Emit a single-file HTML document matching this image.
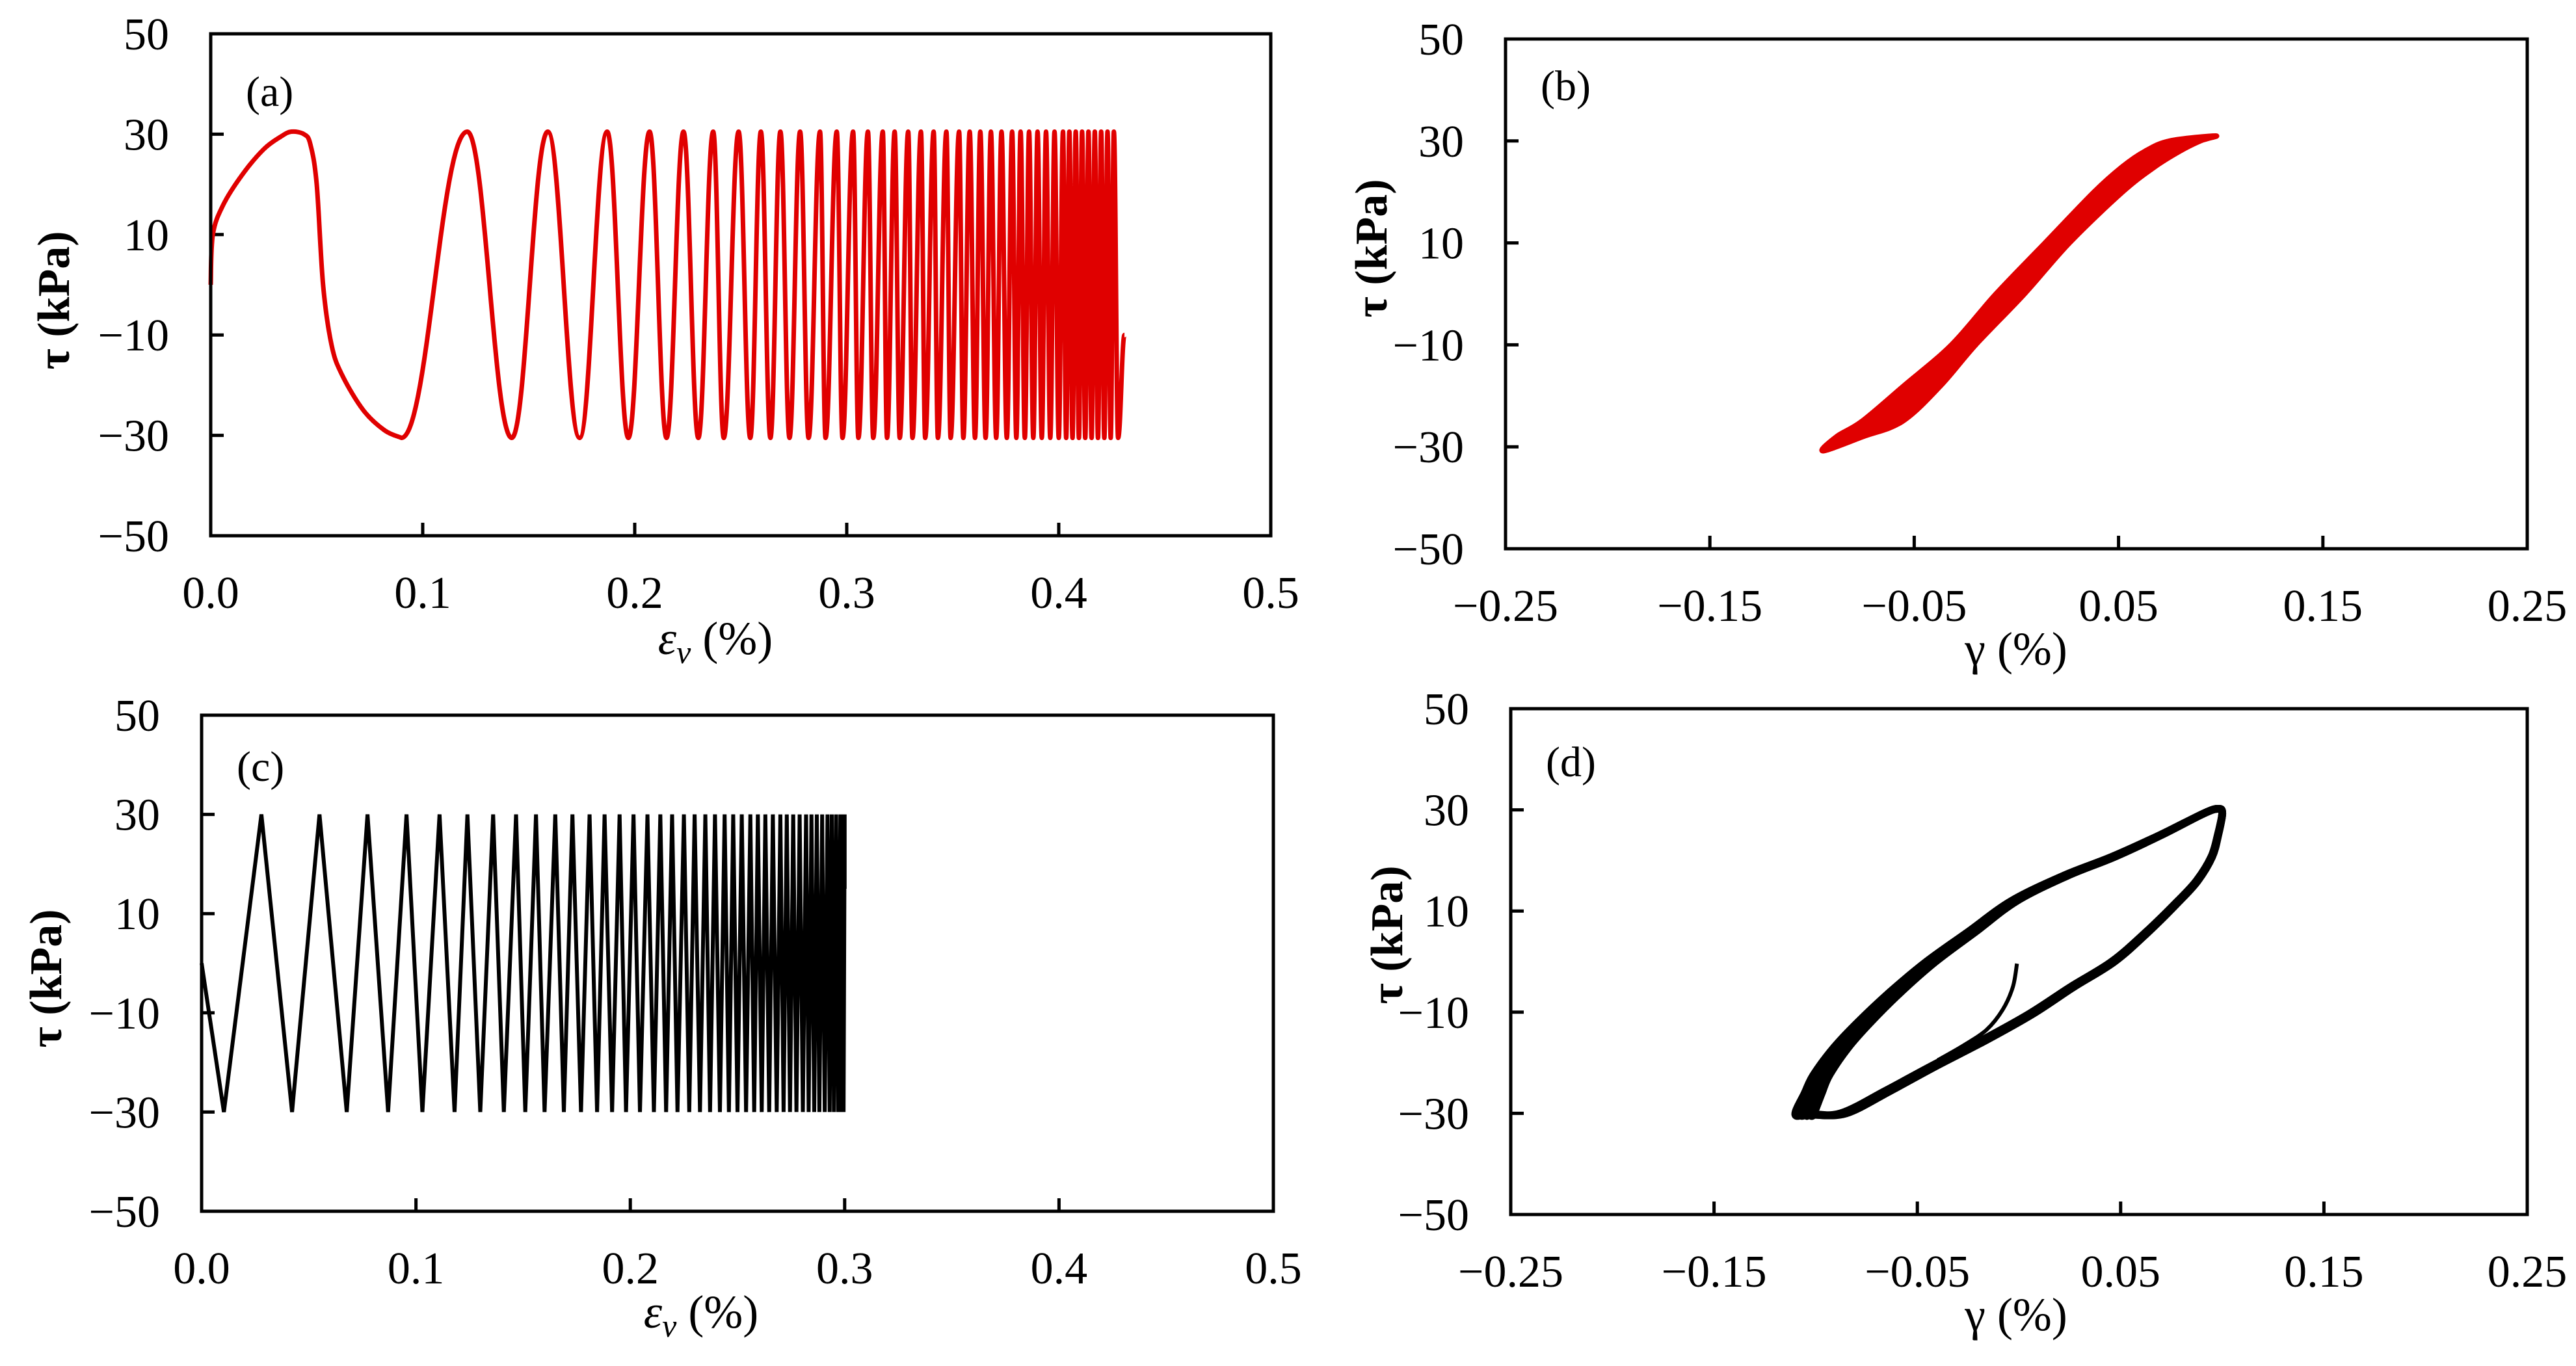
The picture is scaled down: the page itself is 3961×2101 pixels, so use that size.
<!DOCTYPE html>
<html><head><meta charset="utf-8"><style>
html,body{margin:0;padding:0;background:#fff;}
svg{display:block;}
text{font-family:"Liberation Serif","Times New Roman",serif;fill:#000;}
</style></head><body>
<svg id="fig" width="3961" height="2101" viewBox="0 0 3961 2101" xmlns="http://www.w3.org/2000/svg"></svg>
<script>
// ---------- data ----------
const aStartEps = [0, 0.001, 0.006, 0.015, 0.025, 0.033, 0.038, 0.044, 0.047, 0.05, 0.053, 0.057, 0.062, 0.072, 0.082, 0.090];
const aStartTau = [0, 10, 16, 22, 27, 29.5, 30.5, 30, 28, 20, 0, -12, -18, -25, -29, -30.5];
const aTopEps = [0.121, 0.159, 0.187, 0.207, 0.223, 0.237, 0.249, 0.2595, 0.2687, 0.278, 0.2874, 0.2953, 0.303, 0.310, 0.317, 0.3226, 0.329, 0.335, 0.341, 0.347, 0.353, 0.358, 0.363, 0.368, 0.373, 0.378, 0.382, 0.386, 0.390, 0.394, 0.398, 0.402, 0.405, 0.408, 0.411, 0.414, 0.417, 0.420, 0.423, 0.426];
const aBotEps = [0.142, 0.174, 0.197, 0.215, 0.230, 0.242, 0.2545, 0.264, 0.273, 0.282, 0.290, 0.298, 0.3055, 0.3125, 0.319, 0.325, 0.331, 0.337, 0.343, 0.349, 0.355, 0.3605, 0.3655, 0.3705, 0.3755, 0.380, 0.384, 0.388, 0.392, 0.396, 0.400, 0.4035, 0.4065, 0.4095, 0.4125, 0.4155, 0.4185, 0.4215, 0.4245, 0.428];
const aTauMax = 30.5, aTauMin = -30.5;
const bTau = [-30.8, -28, -25, -18, -10, 0, 10, 20, 25, 28, 30, 31];
const bGammaRight = [-0.0947, -0.075, -0.0557, -0.037, -0.0199, 0.004, 0.026, 0.052, 0.068, 0.080, 0.090, 0.0975];
const bGammaLeft = [-0.0947, -0.088, -0.0756, -0.055, -0.0318, -0.010, 0.014, 0.038, 0.052, 0.063, 0.075, 0.0975];
const cBotEps = [0.0104, 0.0422, 0.0677, 0.087, 0.103, 0.118, 0.130, 0.141, 0.151, 0.160, 0.169, 0.177, 0.1845, 0.1915, 0.198, 0.2045, 0.211, 0.2167, 0.222, 0.2275, 0.2325, 0.2372, 0.2418, 0.246, 0.250, 0.254, 0.2578, 0.2613, 0.2648, 0.2683, 0.2715, 0.2745, 0.2775, 0.2805, 0.2832, 0.2858, 0.2882, 0.2907, 0.293, 0.295, 0.297, 0.2985, 0.2995];
const cTopEps = [0.0279, 0.055, 0.0774, 0.0956, 0.111, 0.124, 0.136, 0.1467, 0.156, 0.165, 0.173, 0.181, 0.188, 0.195, 0.2015, 0.208, 0.214, 0.2195, 0.225, 0.230, 0.235, 0.2395, 0.244, 0.248, 0.252, 0.256, 0.2595, 0.263, 0.2665, 0.270, 0.273, 0.276, 0.279, 0.282, 0.2845, 0.287, 0.2895, 0.292, 0.294, 0.296, 0.298, 0.2992, 0.300];
const cTauMax = 30, cTauMin = -30;
const dUpGamma = [-0.101, -0.097, -0.0932, -0.084, -0.073, -0.058, -0.041, -0.021, -0.001, 0.024, 0.047, 0.070, 0.091, 0.098];
const dUpTau = [-30.2, -26, -22.4, -17, -12, -6, 0, 6, 12, 17, 20.7, 25, 29.3, 30.2];
const dDownGamma = [0.100, 0.098, 0.095, 0.088, 0.079, 0.064, 0.047, 0.027, 0.007, -0.016, -0.041, -0.063, -0.085, -0.101];
const dDownTau = [29.3, 25, 20.7, 16, 12, 6, 0, -5, -10.3, -15.5, -20.7, -25.5, -30, -30.2];
const dLoopShift = [0, -0.003, -0.006, -0.009];
const dInitGamma = [-0.001, -0.003, -0.008, -0.016, -0.027, -0.040];
const dInitTau = [-0.4, -5, -9.5, -13.5, -16.5, -19.5];
const epsTicks = [0.0, 0.1, 0.2, 0.3, 0.4, 0.5];
const epsTickLabels = ["0.0", "0.1", "0.2", "0.3", "0.4", "0.5"];
const gamTicks = [-0.25, -0.15, -0.05, 0.05, 0.15, 0.25];
const gamTickLabels = ["\u22120.25", "\u22120.15", "\u22120.05", "0.05", "0.15", "0.25"];
const tauTicks = [50, 30, 10, -10, -30, -50];
const tauTickLabels = ["50", "30", "10", "\u221210", "\u221230", "\u221250"];

// ---------- drawing ----------
const NS = "http://www.w3.org/2000/svg";
const svg = document.getElementById("fig");
function mk(tag, attrs, parent) {
  const e = document.createElementNS(NS, tag);
  for (const k in attrs) e.setAttribute(k, attrs[k]);
  (parent || svg).appendChild(e);
  return e;
}
function panel(cfg) {
  const g = mk("g", {});
  
  
  const sx = v => cfg.x0 + (v - cfg.xmin) / (cfg.xmax - cfg.xmin) * (cfg.x1 - cfg.x0);
  const sy = v => cfg.y1 - (v + 50) / 100 * (cfg.y1 - cfg.y0);
  cfg.sx = sx; cfg.sy = sy; cfg.g = g;
  tauTicks.forEach((t, i) => {
    const tx = mk("text", {x: cfg.x0 - 64, y: sy(t) + 24, "font-size": 70, "text-anchor": "end"}, g);
    tx.textContent = tauTickLabels[i];
    
    
    if (t !== 50 && t !== -50) {
      const l = mk("line", {x1: cfg.x0, x2: cfg.x0 + 20, y1: sy(t), y2: sy(t), stroke: "#000", "stroke-width": 5}, g);
      
      
    }
  });
  cfg.xticks.forEach((t, i) => {
    const tx = mk("text", {x: sx(t), y: cfg.y1 + 111, "font-size": 70, "text-anchor": "middle"}, g);
    tx.textContent = cfg.xlabels[i];
    
    
    if (i > 0 && i < cfg.xticks.length - 1) {
      const l = mk("line", {x1: sx(t), x2: sx(t), y1: cfg.y1, y2: cfg.y1 - 20, stroke: "#000", "stroke-width": 5}, g);
      
      
    }
  });
  const xt = mk("text", {x: cfg.xtx, y: cfg.xty, "font-size": 72, "text-anchor": "middle"}, g);
  xt.innerHTML = cfg.xtitle;
  
  
  const yt = mk("text", {x: 0, y: 0, "font-size": 70, "font-weight": "bold", "text-anchor": "middle", transform: `translate(${cfg.ytx},${cfg.yty}) rotate(-90)`}, g);
  yt.textContent = "\u03c4 (kPa)";
  
  
  const pl = mk("text", {x: cfg.x0 + 54, y: cfg.plY, "font-size": 66}, g);
  pl.textContent = cfg.label;
  
  
  return cfg;
}
function frame(cfg) {
  const r = mk("rect", {x: cfg.x0, y: cfg.y0, width: cfg.x1 - cfg.x0, height: cfg.y1 - cfg.y0, fill: "none", stroke: "#000", "stroke-width": 5}, cfg.g);
  
  
}
function wavePath(pts, cfg) {
  let d = "";
  for (let i = 1; i < pts.length; i++) {
    const pX = cfg.sx(pts[i-1][0]), pY = cfg.sy(pts[i-1][1]);
    const X = cfg.sx(pts[i][0]), Y = cfg.sy(pts[i][1]);
    const dx = X - pX;
    d += ` C${pX + dx * 0.4},${pY} ${X - dx * 0.4},${Y} ${X},${Y}`;
  }
  return d;
}
function crPath(P, closed) {
  const n = P.length;
  const get = i => closed ? P[(i + n) % n] : P[Math.max(0, Math.min(n - 1, i))];
  let d = `M${P[0][0]},${P[0][1]}`;
  const last = closed ? n : n - 1;
  for (let i = 0; i < last; i++) {
    const p0 = get(i - 1), p1 = get(i), p2 = get(i + 1), p3 = get(i + 2);
    d += ` C${p1[0] + (p2[0] - p0[0]) / 6},${p1[1] + (p2[1] - p0[1]) / 6} ${p2[0] - (p3[0] - p1[0]) / 6},${p2[1] - (p3[1] - p1[1]) / 6} ${p2[0]},${p2[1]}`;
  }
  return d + (closed ? " Z" : "");
}

// Panel A
const A = panel({name: "panel-a", x0: 324, x1: 1954, y0: 52, y1: 824, xmin: 0, xmax: 0.5,
  xticks: epsTicks, xlabels: epsTickLabels, xtitle: '<tspan font-style="italic">\u03b5</tspan><tspan font-style="italic" font-size="50" dy="14">v</tspan><tspan dy="-14"> (%)</tspan>',
  xtx: 1100, xty: 1006, ytx: 106, yty: 462, label: "(a)", plY: 163});
{
  const sp = aStartEps.map((e, i) => [A.sx(e), A.sy(aStartTau[i])]);
  let d = crPath(sp, false);
  const tp = [[aStartEps[aStartEps.length-1], aStartTau[aStartTau.length-1]]];
  for (let i = 0; i < aTopEps.length; i++) {
    tp.push([aTopEps[i], aTauMax]);
    tp.push([aBotEps[i], aTauMin]);
  }
  tp.push([0.431, -10]);
  d += wavePath(tp, A);
  const p = mk("path", {d: d, fill: "none", stroke: "#e00000", "stroke-width": 7, "stroke-linejoin": "round"}, A.g);
  
  
}
frame(A);

// Panel B
const B = panel({name: "panel-b", x0: 2315, x1: 3886, y0: 60, y1: 844, xmin: -0.25, xmax: 0.25,
  xticks: gamTicks, xlabels: gamTickLabels, xtitle: "\u03b3 (%)",
  xtx: 3100, xty: 1022, ytx: 2132, yty: 382, label: "(b)", plY: 154});
{
  const P = [];
  bTau.forEach((t, i) => P.push([B.sx(bGammaRight[i]), B.sy(t)]));
  for (let i = bTau.length - 2; i >= 1; i--) P.push([B.sx(bGammaLeft[i]), B.sy(bTau[i])]);
  const p = mk("path", {d: crPath(P, true), fill: "#e00000", stroke: "#e00000", "stroke-width": 8, "stroke-linejoin": "round"}, B.g);
  
  
}
frame(B);

// Panel C
const C = panel({name: "panel-c", x0: 310, x1: 1958, y0: 1100, y1: 1863, xmin: 0, xmax: 0.5,
  xticks: epsTicks, xlabels: epsTickLabels, xtitle: '<tspan font-style="italic">\u03b5</tspan><tspan font-style="italic" font-size="50" dy="14">v</tspan><tspan dy="-14"> (%)</tspan>',
  xtx: 1078, xty: 2042, ytx: 94, yty: 1505, label: "(c)", plY: 1201});
{
  let d = "M" + C.sx(0) + "," + C.sy(0);
  for (let i = 0; i < Math.min(cBotEps.length, cTopEps.length); i++) {
    d += " L" + C.sx(cBotEps[i]) + "," + C.sy(cTauMin);
    d += " L" + C.sx(cTopEps[i]) + "," + C.sy(cTauMax);
  }
  d += " L" + C.sx(0.3) + "," + C.sy(15);
  const p = mk("path", {d: d, fill: "none", stroke: "#000", "stroke-width": 6, "stroke-linejoin": "miter"}, C.g);
  
  
}
frame(C);

// Panel D
const D = panel({name: "panel-d", x0: 2323, x1: 3886, y0: 1090, y1: 1868, xmin: -0.25, xmax: 0.25,
  xticks: gamTicks, xlabels: gamTickLabels, xtitle: "\u03b3 (%)",
  xtx: 3100, xty: 2046, ytx: 2156, yty: 1438, label: "(d)", plY: 1194});
dLoopShift.forEach(s => {
  const P = [];
  dUpGamma.forEach((g, i) => P.push([D.sx(g + s * (1 - (dUpTau[i] + 30) / 60)), D.sy(dUpTau[i])]));
  dDownGamma.forEach((g, i) => P.push([D.sx(g + s * 0.3 * (1 - (dDownTau[i] + 30) / 60)), D.sy(dDownTau[i])]));
  const p = mk("path", {d: crPath(P, true), fill: "none", stroke: "#000", "stroke-width": 12, "stroke-linejoin": "round"}, D.g);
  
  
});
{
  const P = dInitGamma.map((g, i) => [D.sx(g), D.sy(dInitTau[i])]);
  const p = mk("path", {d: crPath(P, false), fill: "none", stroke: "#000", "stroke-width": 6}, D.g);
  
  
}
frame(D);
</script>
</body></html>
